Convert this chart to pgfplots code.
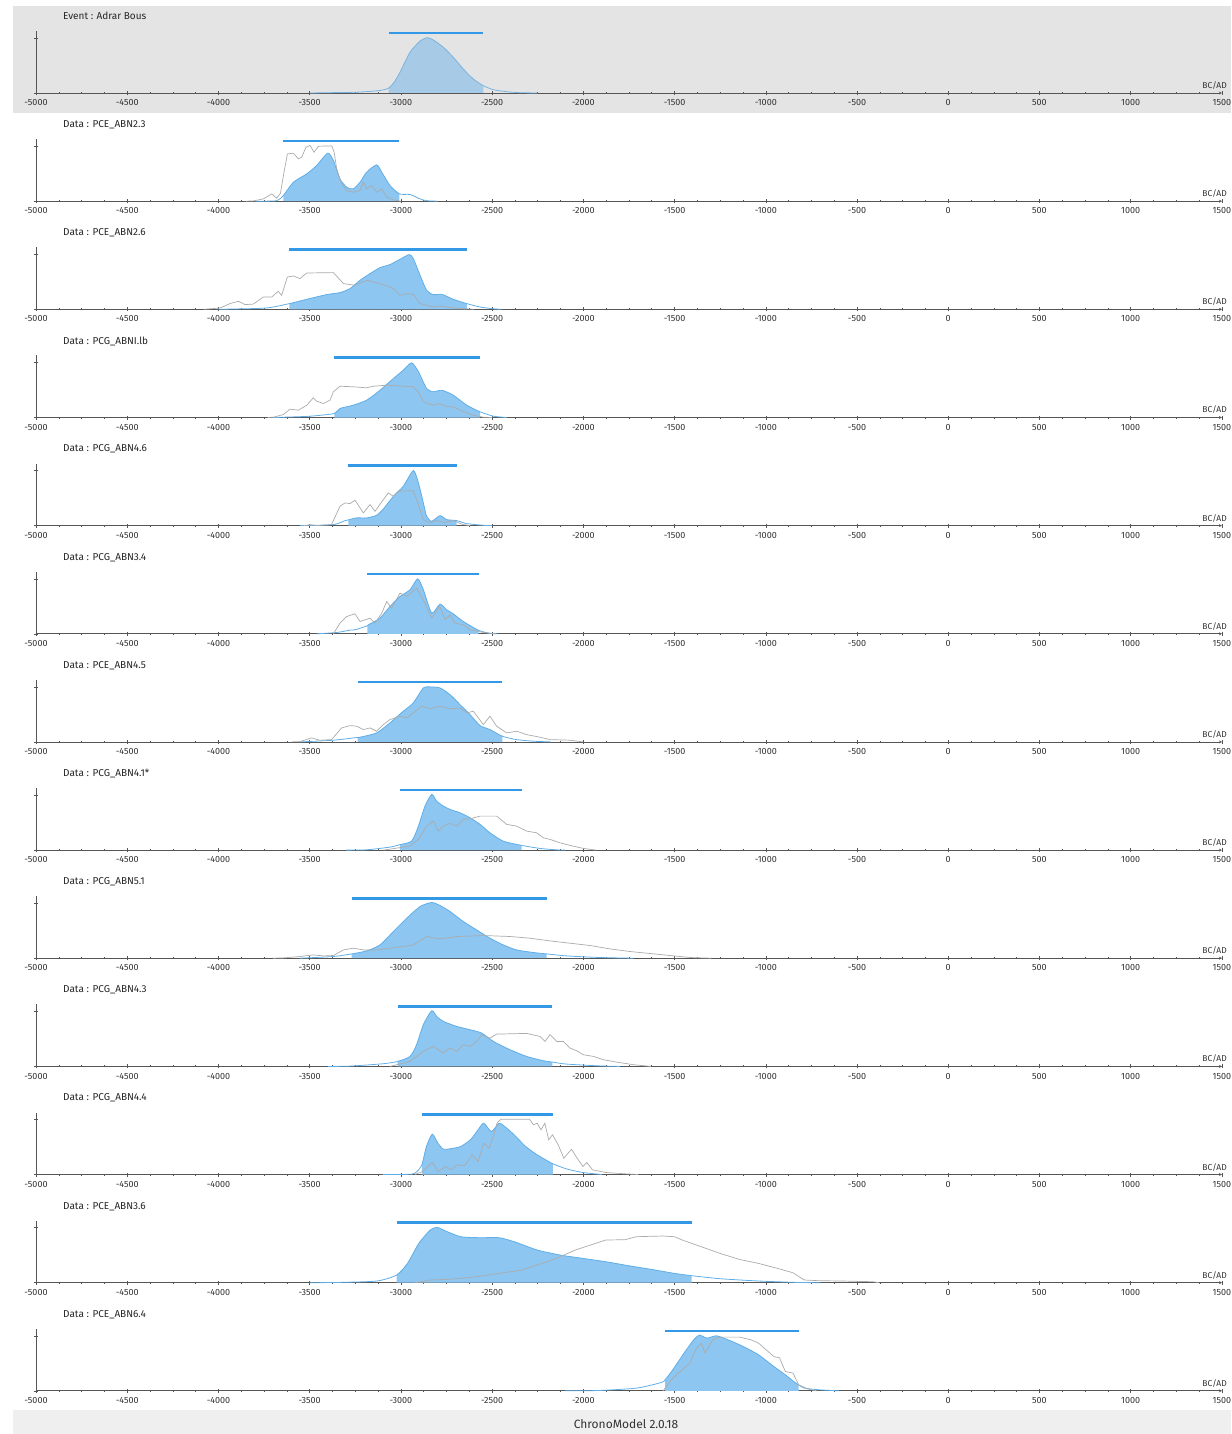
\documentclass[border=0pt]{standalone}
\usepackage{pgfplots}
\pgfplotsset{compat=1.18}
\usepackage{pgfplotstable}
\usepackage{fontspec}
\setmainfont{Fira Sans}
\usetikzlibrary{arrows.meta}

\definecolor{bgpanel}{HTML}{E4E4E4}
\definecolor{bgfoot}{HTML}{EFEFEF}
\definecolor{axisgray}{HTML}{555555}
\definecolor{labelgray}{HTML}{333333}
\definecolor{fillblue}{HTML}{8DC6F0}
\definecolor{lineblue}{HTML}{5FAEE8}
\definecolor{fillblueA}{HTML}{A7CAE6}
\definecolor{lineblueA}{HTML}{78B4E2}
\definecolor{barblue}{HTML}{3399E6}
\definecolor{curvegray}{HTML}{ABABAB}

% heights are in px above the baseline (tick at 55 = max density)
\pgfplotstableread{
x y
-3500 0
-3400 0.3
-3242 0.8
-3114 2.5
-3067 5
-3036 11
-3005 20.7
-2950 40.7
-2895 52
-2855 55.3
-2822 53
-2767 45.7
-2713 35.7
-2658 24
-2603 14
-2548 7.3
-2493 3.3
-2420 1.3
-2347 0.3
-2250 0
}\blueA

\pgfplotstableread{
x y
-3800 0
-3681 0.5
-3644 5.7
-3589 19
-3516 27.3
-3462 35.7
-3401 48
-3370 40.7
-3334 22.3
-3297 14
-3261 12.3
-3224 19
-3188 29
-3133 36.3
-3105 29
-3060 15.7
-3008 7.3
-2950 6.7
-2895 2.3
-2859 0.5
-2800 0
}\blueB
\pgfplotstableread{
x y
-3850 0
-3809 0.3
-3754 2.3
-3708 7.3
-3681 3
-3660 8
-3644 25.7
-3622 47.3
-3589 48
-3562 42.3
-3544 44
-3520 54
-3498 55.7
-3476 49
-3452 55
-3379 55.3
-3366 49
-3352 32.3
-3325 17.3
-3297 10.7
-3261 9
-3224 11
-3206 19
-3188 12.3
-3160 15.7
-3133 9
-3105 12.3
-3078 4
-3041 1.3
-3000 0
}\grayB

\pgfplotstableread{
x y
-4000 0
-3918 0.3
-3736 1.3
-3611 5.7
-3516 10
-3407 14.7
-3334 16.7
-3279 20.7
-3224 29
-3169 35.7
-3114 41.7
-3060 44.7
-3005 50
-2954 54.7
-2932 50.7
-2895 34
-2859 19
-2822 14.7
-2776 15
-2713 10
-2639 5.7
-2566 2.3
-2493 0.5
-2450 0
}\blueC
\pgfplotstableread{
x y
-4080 0
-4046 0.5
-3991 1.3
-3937 5.7
-3891 8
-3854 4.7
-3809 5.2
-3754 12.3
-3708 12.3
-3672 18
-3654 14
-3622 32.3
-3589 33.3
-3553 30.7
-3516 36.3
-3370 36.7
-3315 25.7
-3251 24
-3188 29
-3151 27.3
-3096 24.7
-3041 20.7
-3005 14
-2968 15.7
-2932 15
-2895 5.7
-2822 2.3
-2786 3.3
-2713 1.3
-2639 0.5
-2600 0
}\grayC

\pgfplotstableread{
x y
-3700 0
-3644 0.3
-3498 1.3
-3365 4
-3334 9
-3261 12.3
-3188 17.3
-3114 27.3
-3041 39
-2987 47.3
-2941 54.7
-2904 45.7
-2859 29
-2822 25.7
-2776 27.3
-2713 22.3
-2639 12.3
-2566 5.7
-2493 1.3
-2420 0
}\blueD
\pgfplotstableread{
x y
-3730 0
-3699 0.3
-3644 3
-3608 8.3
-3562 7.3
-3516 12.3
-3480 19.7
-3462 16.3
-3425 14
-3389 17.3
-3370 25.7
-3334 31.3
-3261 30.7
-3188 29.7
-3151 31.3
-3078 32.3
-2932 30.7
-2904 25.7
-2877 15.7
-2822 12.3
-2786 14
-2749 10.7
-2713 10.7
-2676 7.3
-2603 2.3
-2548 0.3
-2500 0
}\grayD

\pgfplotstableread{
x y
-3553 0
-3370 1
-3306 5
-3288 5.7
-3242 7.7
-3188 7.7
-3133 10.3
-3096 16.7
-3041 29.3
-2987 39.3
-2932 55
-2904 42.7
-2877 22.7
-2859 9.3
-2831 4.3
-2786 10
-2749 6
-2694 5
-2639 2
-2548 0.3
-2500 0
}\blueE
\pgfplotstableread{
x y
-3530 0
-3498 1
-3462 0
-3380 1
-3334 19.3
-3306 22.7
-3279 22
-3251 25.3
-3206 12.7
-3169 21
-3142 14.3
-3096 26
-3069 32.7
-3041 29.3
-3014 34.3
-2932 35
-2914 26
-2877 6
-2841 2.7
-2804 5
-2767 3.3
-2713 5
-2658 1
-2620 0
}\grayE

\pgfplotstableread{
x y
-3462 0
-3352 1.3
-3279 3.7
-3250 4
-3184 8
-3178 9
-3115 15.7
-3060 27.3
-3005 37.3
-2950 44
-2908 55
-2877 44
-2831 20.7
-2786 29.7
-2749 24
-2713 20
-2658 12.3
-2574 3.5
-2512 0.5
-2470 0
}\blueF
\pgfplotstableread{
x y
-3370 0
-3334 10.7
-3297 17.3
-3252 20
-3224 12.3
-3169 15.7
-3142 10.7
-3105 20.7
-3078 32.3
-3051 25.7
-3005 40.7
-2968 37.3
-2914 45.7
-2877 34
-2831 15.7
-2786 27.3
-2758 14
-2731 19
-2704 10.7
-2658 9
-2621 4
-2548 1.3
-2480 0
}\grayF

\pgfplotstableread{
x y
-3553 0
-3370 1.7
-3237 4.5
-3224 4.7
-3133 9
-3060 19
-2987 30.7
-2932 39
-2877 54
-2841 55
-2786 54
-2731 47.3
-2676 37.3
-2621 27.3
-2566 16.3
-2512 12.3
-2444 5.7
-2366 2.3
-2274 0.7
-2180 0
}\blueG
\pgfplotstableread{
x y
-3600 0
-3553 0.3
-3489 4
-3444 1.7
-3380 2.3
-3325 14
-3279 16.3
-3242 15.7
-3206 12.3
-3169 14
-3133 10.7
-3096 17.3
-3060 22.3
-3005 25.7
-2968 24
-2932 29
-2886 35.7
-2841 33
-2786 35.7
-2731 33
-2676 34
-2639 29
-2603 30.7
-2548 17.3
-2512 25.7
-2475 15.7
-2420 9
-2366 10.7
-2311 7.3
-2238 4.7
-2183 2.3
-2073 1.7
-2000 0
}\grayG

\pgfplotstableread{
x y
-3300 0
-3188 0.3
-3060 3
-3005 5.5
-2941 9
-2904 24
-2868 44
-2831 55.7
-2804 49
-2767 44
-2731 40.7
-2676 37.3
-2621 32.3
-2566 25.7
-2512 17.3
-2439 9
-2338 4.7
-2238 1.7
-2150 0.3
-2100 0
}\blueH
\pgfplotstableread{
x y
-3096 0
-2950 4
-2904 10.7
-2859 24
-2822 29
-2795 19
-2767 24
-2731 26.7
-2694 24
-2658 30.7
-2621 31.3
-2566 34
-2475 34
-2420 25.7
-2366 24
-2311 19
-2256 17.3
-2219 12.3
-2183 10.7
-2128 7.3
-2073 4.7
-2000 1.7
-1930 0
}\grayH

\pgfplotstableread{
x y
-3553 0
-3370 1.7
-3270 4.3
-3188 7.3
-3115 13.3
-3041 26.7
-2968 40
-2895 51.7
-2831 55.7
-2786 52.7
-2731 46.7
-2658 36.7
-2585 28.3
-2512 20
-2439 13.3
-2366 8.3
-2274 5.7
-2201 4.3
-2091 2.3
-1909 0.7
-1726 0
}\blueI
\pgfplotstableread{
x y
-3700 0
-3644 0.3
-3553 1.7
-3480 3.3
-3425 2.3
-3370 2.7
-3315 8.3
-3261 10
-3206 8.3
-3133 8.3
-3060 10
-2987 11.7
-2932 13.3
-2859 21.7
-2786 19.3
-2694 21.7
-2548 22.7
-2402 21.7
-2292 20
-2183 17.3
-2073 15
-1963 12.7
-1854 9.3
-1744 6.7
-1635 4.7
-1525 2.7
-1416 0.7
-1300 0
}\grayI

\pgfplotstableread{
x y
-3400 0
-3279 0.3
-3096 2.7
-3018 5
-2950 10
-2914 21.7
-2877 41.7
-2831 55.7
-2804 50
-2767 45
-2694 40
-2621 36.7
-2557 33.3
-2493 25
-2402 16.7
-2311 10
-2219 5.7
-2170 4.3
-2091 2.3
-1909 0.5
-1800 0
}\blueJ
\pgfplotstableread{
x y
-3060 0
-2950 5
-2877 15
-2822 20
-2767 13.3
-2731 18.3
-2694 15
-2658 21.7
-2621 20
-2585 25
-2557 31.7
-2512 28.3
-2475 32.3
-2311 33
-2238 30
-2210 25
-2183 31.7
-2146 25
-2110 25
-2073 18.3
-2037 15.7
-2000 11.7
-1945 10
-1890 6.7
-1817 4.3
-1726 1.7
-1630 0
}\grayJ

\pgfplotstableread{
x y
-3100 0
-2944 0.3
-2912 3
-2885 9.7
-2860 28
-2828 40.3
-2797 31.3
-2766 25.3
-2713 26.3
-2672 28
-2619 34.7
-2577 44.7
-2546 51.3
-2504 43
-2462 51.3
-2431 48
-2379 39.7
-2316 28
-2253 19.7
-2167 10.7
-2086 5.3
-2002 2
-1900 0
}\blueK
\pgfplotstableread{
x y
-2923 0
-2881 3
-2828 12
-2797 3
-2755 8
-2724 4.7
-2692 9.7
-2651 8.7
-2609 19.7
-2577 13
-2546 31.3
-2515 26.3
-2494 38
-2473 51.3
-2452 55.3
-2295 55.3
-2274 49.7
-2253 51.3
-2232 44.7
-2211 51.3
-2190 34.7
-2169 39.7
-2138 29.7
-2107 16.3
-2065 25.3
-2034 16.3
-2002 8
-1981 12
-1950 4.7
-1877 2
-1772 0.7
-1700 0
}\grayK

\pgfplotstableread{
x y
-3500 0
-3341 0.3
-3132 1.7
-3023 7.7
-2964 19.3
-2902 39.3
-2839 52.7
-2801 55.3
-2755 51.7
-2672 46
-2567 45
-2462 45
-2379 41
-2253 32.7
-2128 27.7
-2002 24.3
-1877 21
-1752 17
-1626 13.3
-1500 9.3
-1406 7
-1250 4
-1040 1.7
-831 0.3
-700 0
}\blueL
\pgfplotstableread{
x y
-2923 0
-2839 2.7
-2713 3.7
-2588 6
-2462 9.3
-2337 12.7
-2253 17.7
-2169 22.7
-2086 29.3
-2044 32.7
-1960 37.7
-1877 42.7
-1772 43
-1710 46
-1564 46.7
-1500 46
-1458 42.7
-1354 36
-1250 29.3
-1145 23.3
-1040 19.3
-935 14.3
-852 10
-789 2.7
-706 2
-580 1.7
-413 1
-380 0
}\grayL

\pgfplotstableread{
x y
-2100 0
-1918 0.3
-1709 2.7
-1573 8.3
-1552 11
-1510 21
-1448 37.7
-1395 51
-1364 55.7
-1322 52.7
-1270 55
-1207 51
-1123 44.3
-1040 36
-956 24.3
-893 16
-847 9.3
-820 6
-789 2.7
-706 1
-600 0
}\blueM
\pgfplotstableread{
x y
-1563 0
-1510 12.7
-1458 21
-1416 27.7
-1385 41
-1354 47.7
-1333 37.7
-1291 51
-1249 53.7
-1144 53.7
-1081 51
-1040 47.7
-998 41
-956 34.3
-925 33
-893 19.3
-851 17.7
-820 6
-768 1.7
-720 0
}\grayM

\pgfplotsset{chrono/.style={
  scale only axis, width=1186pt, height=62pt,
  anchor=south west,
  xmin=-5000, xmax=1500, ymin=0, ymax=62,
  axis x line=bottom, axis y line=left,
  axis line style={draw=axisgray, line width=0.8pt},
  x axis line style={-{Stealth[length=3pt,width=3pt]}},
  y axis line style={-},
  xtick distance=500, minor x tick num=3,
  ytick={0,55}, yticklabels={},
  tick align=center, major tick length=4pt, minor tick length=2pt,
  tick style={draw=axisgray, line width=0.6pt},
  xticklabel style={font=\fontsize{9}{10}\selectfont, text=labelgray, yshift=-1pt},
  /pgf/number format/assume math mode=true,
  /pgf/number format/1000 sep={},
  clip=false,
}}

\tikzset{
  titlenode/.style={anchor=west, inner sep=0pt, font=\fontsize{10}{12}\selectfont, text=black!85},
  bcad/.style={anchor=east, inner sep=0pt, font=\fontsize{8.5}{10}\selectfont, text=labelgray},
}

% #1 baseline (px from top), #2 blue table, #3 gray table, #4 #5 HPD interval, #6 title
\newcommand{\panel}[6]{%
\begin{axis}[chrono, at={(36pt,-#1pt)}]
  \addplot[fill=fillblue, draw=none, smooth, tension=0.4, restrict x to domain=#4:#5] table {#2} \closedcycle;
  \addplot[lineblue, line width=0.8pt, smooth, tension=0.4] table {#2};
  \addplot[curvegray, line width=0.7pt] table {#3};
  \addplot[barblue, line width=2.6pt] coordinates {(#4,60) (#5,60)};
\end{axis}
\node[titlenode] at (63,-#1+76.5) {#6};
\node[bcad] at (1227,-#1+7.5) {BC/AD};
}

\begin{document}
\begin{tikzpicture}[x=1pt,y=1pt]
\useasboundingbox (0,0) rectangle (1231,-1434);
\fill[bgpanel] (13,-6) rectangle (1231,-113);
\fill[bgfoot] (13,-1410) rectangle (1231,-1434);
\node[font=\fontsize{12}{14}\selectfont, text=labelgray] at (626,-1424) {ChronoModel 2.0.18};

\begin{axis}[chrono, at={(36pt,-93pt)}]
  \addplot[fill=fillblueA, draw=none, smooth, tension=0.4, restrict x to domain=-3067:-2548] table {\blueA} \closedcycle;
  \addplot[lineblueA, line width=0.8pt, smooth, tension=0.4] table {\blueA};
  \addplot[barblue, line width=2.6pt] coordinates {(-3067,60) (-2548,60)};
\end{axis}
\node[titlenode] at (63,-93+77) {Event : Adrar Bous};
\node[bcad] at (1227,-93+7.5) {BC/AD};

\panel{201.2}{\blueB}{\grayB}{-3644}{-3008}{Data : PCE\_ABN2.3}
\panel{309.3}{\blueC}{\grayC}{-3611}{-2639}{Data : PCE\_ABN2.6}
\panel{417.5}{\blueD}{\grayD}{-3365}{-2566}{Data : PCG\_ABNI.lb}
\panel{525.6}{\blueE}{\grayE}{-3288}{-2694}{Data : PCG\_ABN4.6}
\panel{633.8}{\blueF}{\grayF}{-3184}{-2574}{Data : PCG\_ABN3.4}
\panel{741.9}{\blueG}{\grayG}{-3237}{-2444}{Data : PCE\_ABN4.5}
\panel{850.1}{\blueH}{\grayH}{-3005}{-2338}{Data : PCG\_ABN4.1*}
\panel{958.2}{\blueI}{\grayI}{-3270}{-2201}{Data : PCG\_ABN5.1}
\panel{1066.4}{\blueJ}{\grayJ}{-3018}{-2170}{Data : PCG\_ABN4.3}
\panel{1174.5}{\blueK}{\grayK}{-2885}{-2167}{Data : PCG\_ABN4.4}
\panel{1282.7}{\blueL}{\grayL}{-3023}{-1406}{Data : PCE\_ABN3.6}
\panel{1390.8}{\blueM}{\grayM}{-1552}{-820}{Data : PCE\_ABN6.4}
\end{tikzpicture}
\end{document}
